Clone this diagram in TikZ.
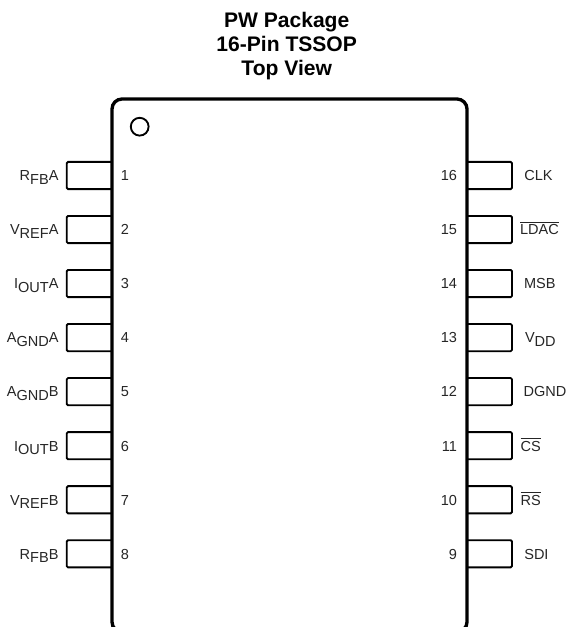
\documentclass[tikz,border=0pt]{standalone}
\usepackage{fontspec}
\setmainfont{Liberation Sans}
\newcommand{\lowr}[1]{\raisebox{-2.7pt}{#1}}
\newcommand{\ovr}[1]{\leavevmode\vbox{\hrule height 1pt\kern 1.2pt\hbox{#1}}}
\begin{document}
\begin{tikzpicture}[x=0.75pt,y=-0.75pt,
  lbl/.style={inner sep=0pt,outer sep=0pt,font=\fontsize{10.9pt}{12pt}\selectfont,text=black!85},
  leftlbl/.style={lbl,anchor=base east},
  rightlbl/.style={lbl,anchor=base west},
  num/.style={lbl,anchor=base},
  numr/.style={lbl,anchor=base east},
  bodyline/.style={line width=2.5pt,black,rounded corners=7.5pt},
  pinline/.style={line width=1.4pt,black,rounded corners=1pt},
  titletext/.style={inner sep=0pt,align=center,font=\fontsize{15.8pt}{18pt}\selectfont\bfseries}]
\clip (0,0) rectangle (566,627);
\fill[white] (0,0) rectangle (566,627);
\node[titletext,anchor=base] (title) at (286.7,76) {PW Package\\16-Pin TSSOP\\Top View};
% left pins
\foreach \i/\lab in {1/{R\lowr{FB}A},2/{V\lowr{REF}A},3/{I\lowr{OUT}A},4/{A\lowr{GND}A},5/{A\lowr{GND}B},6/{I\lowr{OUT}B},7/{V\lowr{REF}B},8/{R\lowr{FB}B}}{
  \pgfmathsetmacro{\yt}{161.9+54.04*(\i-1)}
  \pgfmathsetmacro{\yb}{\yt+27.2}
  \pgfmathsetmacro{\yc}{\yt+13.6+5.3}
  \coordinate (LT\i) at (112,\yt);
  \coordinate (LB\i) at (112,\yb);
  \draw[pinline] (LT\i) -- (66.7,\yt) -- (66.7,\yb) -- (LB\i);
  \node[leftlbl] (Ll\i) at (58.5,\yc) {\lab};
  \node[num] (Ln\i) at (125,\yc) {\i};
}
% right pins
\foreach \i/\n/\xl/\lab in {1/16/524.3/{CLK},2/15/520/{\ovr{LDAC}},3/14/524/{MSB},4/13/525/{V\lowr{DD}},5/12/523.5/{DGND},6/11/520.5/{\ovr{CS}},7/10/520.5/{\ovr{RS}},8/9/524.3/{SDI}}{
  \pgfmathsetmacro{\yt}{161.9+54.04*(\i-1)}
  \pgfmathsetmacro{\yb}{\yt+27.2}
  \pgfmathsetmacro{\yc}{\yt+13.6+5.3}
  \coordinate (RT\i) at (467,\yt);
  \coordinate (RB\i) at (467,\yb);
  \draw[pinline] (RT\i) -- (512,\yt) -- (512,\yb) -- (RB\i);
  \node[rightlbl] (Rl\i) at (\xl,\yc) {\lab};
  \node[numr] (Rn\i) at (457,\yc) {\n};
}
% package body
\draw[bodyline] (112,99) -- (467,99) -- (467,632) -- (112,632) -- cycle;
\draw[line width=1.4pt,black] (139.7,126.7) circle [radius=8.9];
\end{tikzpicture}
\end{document}
